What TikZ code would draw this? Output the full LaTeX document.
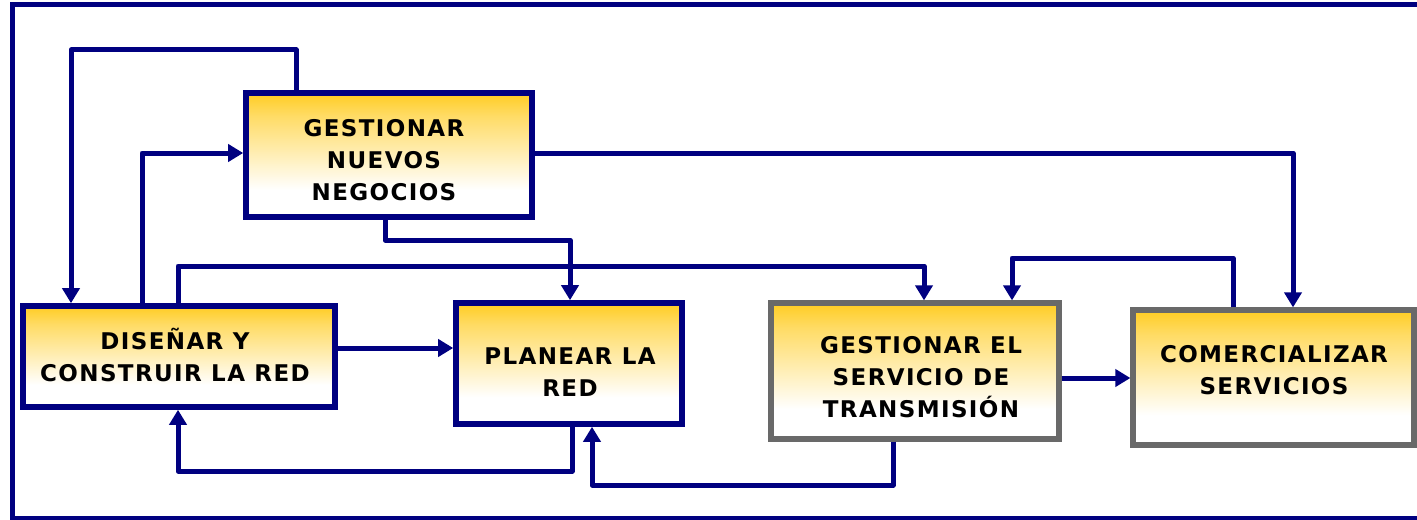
\documentclass[tikz,border=0pt]{standalone}
\usepackage{fontspec}
\usetikzlibrary{arrows.meta}
\newfontfamily\boxfont[LetterSpace=6]{DejaVu Sans}
\definecolor{navy}{RGB}{0,0,128}
\definecolor{frame}{RGB}{105,105,105}
\definecolor{gold}{RGB}{255,204,34}
% the filled area spans 25bp..75bp of this shading
\pgfdeclareverticalshading{goldfade}{100bp}{color(0bp)=(white); color(36bp)=(white); color(66bp)=(gold!70!white); color(75bp)=(gold); color(100bp)=(gold)}
\tikzset{
  procbox/.style={draw=navy, line width=2.8pt, shading=goldfade, inner sep=0pt},
  greybox/.style={procbox, draw=frame, line width=2.6pt},
  boxtext/.style={font=\boxfont\bfseries\fontsize{11.5pt}{16pt}\selectfont, align=center, inner sep=0pt},
  link/.style={draw=navy, line width=2.5pt, line join=round},
  flow/.style={link, -{Triangle[width=8.5pt,length=7.5pt]}}
}
\begin{document}
\begin{tikzpicture}[x=0.5pt, y=-0.5pt]
\useasboundingbox (0,0) rectangle (1417,519);
\begin{scope}
  \clip (0,0) rectangle (1417,519);
  \draw[navy, line width=2.6pt] (12.5,4.5) rectangle (1440,518.5);
\end{scope}

% process boxes
\node[procbox, minimum width=286*0.5pt, minimum height=124*0.5pt] (gn) at (389,155) {};
\node[procbox, minimum width=312*0.5pt, minimum height=101*0.5pt] (dc) at (179,356.5) {};
\node[procbox, minimum width=226*0.5pt, minimum height=121*0.5pt] (pl) at (569,363.5) {};
\node[greybox, minimum width=288*0.5pt, minimum height=136*0.5pt] (gs) at (915,371) {};
\node[greybox, minimum width=281*0.5pt, minimum height=135*0.5pt] (cs) at (1273.5,377.5) {};

% box labels
\node[boxtext] (gn-t) at (384,160) {GESTIONAR\\NUEVOS\\NEGOCIOS};
\node[boxtext] (dc-t) at (175,355) {DISEÑAR Y\\CONSTRUIR LA RED};
\node[boxtext] (pl-t) at (570,372) {PLANEAR LA\\RED};
\node[boxtext] (gs-t) at (921,377) {GESTIONAR EL\\SERVICIO DE\\TRANSMISIÓN};
\node[boxtext] (cs-t) at (1274,370) {COMERCIALIZAR\\SERVICIOS};

% connectors
\draw[flow] (296,0 |- gn.north) -- (296,50) -| (71,0 |- dc.north);
\draw[flow] (142,0 |- dc.north) |- (gn.west |- 0,153);
\draw[flow] (178,0 |- dc.north) -- (178,266) -| (924,0 |- gs.north);
\draw[flow] (385,0 |- gn.south) -- (385,240) -| (570,0 |- pl.north);
\draw[flow] (dc.east |- 0,348) -- (pl.west |- 0,348);
\draw[flow] (572,0 |- pl.south) -- (572,471) -| (178,0 |- dc.south);
\draw[flow] (893,0 |- gs.south) -- (893,485) -| (592,0 |- pl.south);
\draw[flow] (gs.east |- 0,378) -- (cs.west |- 0,378);
\draw[flow] (1233,0 |- cs.north) -- (1233,258) -| (1012,0 |- gs.north);
\draw[flow] (gn.east |- 0,153) -| (1293,0 |- cs.north);
\end{tikzpicture}
\end{document}
